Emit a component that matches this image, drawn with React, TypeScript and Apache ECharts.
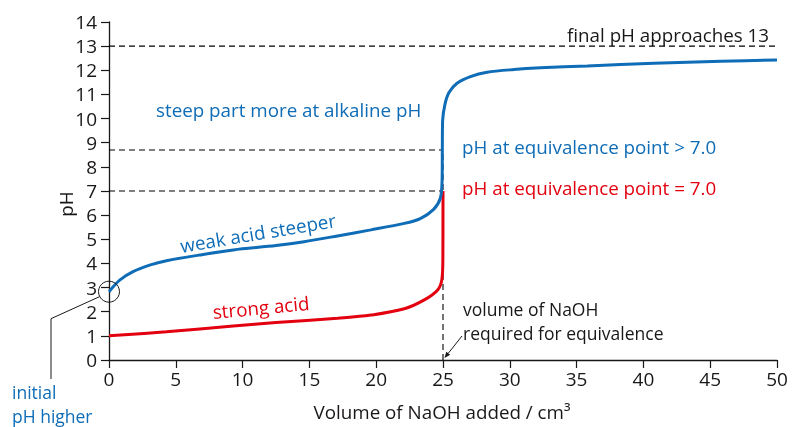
import React, { useEffect, useRef } from "react";
import * as echarts from "echarts";

// ---- data ----
const weakVolume = [0, 0.8, 1.8, 3.1, 4.3, 6.8, 9.3, 12.5, 14.6, 17.1, 19.6, 22.1, 23.3, 24.3, 24.8, 24.93, 24.95, 24.97, 25.15, 25.45, 26.05, 27.05, 28.3, 30.3, 32.3, 35.8, 40.8, 45.8, 50];
const weakPH = [2.83, 3.31, 3.66, 3.94, 4.11, 4.35, 4.56, 4.74, 4.9, 5.14, 5.39, 5.66, 5.86, 6.24, 6.7, 7.4, 8.7, 9.9, 10.6, 11.08, 11.46, 11.74, 11.92, 12.03, 12.1, 12.18, 12.29, 12.37, 12.43];
const strongVolume = [0, 4.3, 9.3, 12.5, 17.1, 19.6, 22.1, 23.6, 24.6, 24.92, 24.99, 25.0];
const strongPH = [1.0, 1.17, 1.41, 1.55, 1.73, 1.86, 2.12, 2.49, 2.9, 3.35, 4.2, 7.0];
const finalPH = 13;
const weakEquivPH = 8.7;
const strongEquivPH = 7.0;
const equivVolume = 25;
const volumeRange = [0, 50];
const pHRange = [0, 14];
const initialWeakPH = 2.83;

const FONT = "'Open Sans', Lato, sans-serif";
const BLUE = "#0f6cb6";
const RED = "#e3000f";
const INK = "#1a1718";

export default function App() {
  const ref = useRef<HTMLDivElement>(null);
  useEffect(() => {
    const chart = echarts.init(ref.current!, null, { renderer: "svg" });
    const dashed = (data: number[][]) => ({
      type: "line",
      data,
      symbol: "none",
      silent: true,
      z: 1,
      lineStyle: { color: "#000", width: 1.1, type: [6, 4] },
    });
    const axisCommon = {
      type: "value",
      axisLine: { show: true, lineStyle: { color: INK, width: 1.3 } },
      axisTick: { show: true, length: 8, lineStyle: { color: INK, width: 1.2 } },
      splitLine: { show: false },
    };
    chart.setOption({
      animation: false,
      grid: { left: 109, right: 15, top: 22, bottom: 67 },
      xAxis: {
        ...axisCommon,
        min: volumeRange[0],
        max: volumeRange[1],
        interval: 5,
        axisLabel: { color: INK, fontSize: 19, fontFamily: FONT, margin: 9 },
      },
      yAxis: {
        ...axisCommon,
        min: pHRange[0],
        max: pHRange[1],
        interval: 1,
        axisLabel: { color: INK, fontSize: 19, fontFamily: FONT, margin: 12 },
      },
      series: [
        dashed([[volumeRange[0], finalPH], [volumeRange[1], finalPH]]),
        dashed([[volumeRange[0], weakEquivPH], [equivVolume, weakEquivPH]]),
        dashed([[volumeRange[0], strongEquivPH], [equivVolume, strongEquivPH]]),
        dashed([[equivVolume, 0], [equivVolume, weakEquivPH]]),
        {
          type: "line",
          name: "strong acid",
          data: strongVolume.map((v, i) => [v, strongPH[i]]),
          symbol: "none",
          smooth: 0.35,
          z: 3,
          lineStyle: { color: RED, width: 3 },
        },
        {
          type: "line",
          name: "weak acid",
          data: weakVolume.map((v, i) => [v, weakPH[i]]),
          symbol: "none",
          smooth: 0.3,
          z: 4,
          lineStyle: { color: BLUE, width: 3 },
        },
      ],
    });

    const px = (x: number, y: number) => chart.convertToPixel({ gridIndex: 0 }, [x, y]) as number[];
    const c = px(0, initialWeakPH);
    const eq = px(equivVolume, 0);
    const fs = 18.8;
    const txt = (text: string, x: number, baseline: number, color: string, align = "left", size = fs, lineHeight = 0) => {
      const lines = text.split("\n").length;
      const lh = lineHeight || size * 1.2;
      return {
        type: "text",
        x,
        y: baseline - 0.33 * size + ((lines - 1) * lh) / 2,
        style: { text, fill: color, font: `${size}px ${FONT}`, align, verticalAlign: "middle", lineHeight: lh },
      };
    };
    const rot = (text: string, x: number, y: number, deg: number, color: string) => ({
      type: "text",
      x,
      y,
      rotation: (deg * Math.PI) / 180,
      style: { text, fill: color, font: `${fs}px ${FONT}`, align: "center", verticalAlign: "middle" },
    });
    // arrow from label to equivalence volume on the axis
    const a0 = [462, 336];
    const tip = [eq[0] + 1.5, eq[1] - 2];
    const dx = tip[0] - a0[0], dy = tip[1] - a0[1];
    const L = Math.hypot(dx, dy);
    const ux = dx / L, uy = dy / L;
    const hl = 6, hw = 2.5;
    const bx = tip[0] - ux * hl, by = tip[1] - uy * hl;
    chart.setOption({
      graphic: [
        { type: "circle", shape: { cx: c[0], cy: c[1], r: 10.5 }, style: { fill: "none", stroke: INK, lineWidth: 1 }, z: 10 },
        { type: "polyline", shape: { points: [[c[0] - 9.5, c[1] + 5], [51, c[1] + 27], [51, 379]] }, style: { fill: "none", stroke: INK, lineWidth: 1 }, z: 10 },
        { type: "line", shape: { x1: a0[0], y1: a0[1], x2: bx, y2: by }, style: { stroke: INK, lineWidth: 1 }, z: 10 },
        { type: "polygon", shape: { points: [tip, [bx - uy * hw, by + ux * hw], [bx + uy * hw, by - ux * hw]] }, style: { fill: INK }, z: 10 },
        txt("final pH approaches 13", 567, 41, INK),
        txt("steep part more at alkaline pH", 156, 116, BLUE),
        txt("pH at equivalence point > 7.0", 462, 153, BLUE),
        txt("pH at equivalence point = 7.0", 462, 194, RED),
        txt("volume of NaOH\nrequired for equivalence", 463, 315, INK, "left", 17.5, 24),
        txt("initial\npH higher", 12, 398, BLUE, "left", 17.5, 24),
        txt("Volume of NaOH added / cm³", 442, 418, INK, "center"),
        rot("pH", 66, 204, 90, INK),
        rot("weak acid steeper", 258, 233, 9.5, BLUE),
        rot("strong acid", 261, 307.5, 5.5, RED),
      ],
    });
    return () => chart.dispose();
  }, []);
  return <div ref={ref} style={{ position: "fixed", left: 0, top: 0, width: 792, height: 427 }} />;
}
